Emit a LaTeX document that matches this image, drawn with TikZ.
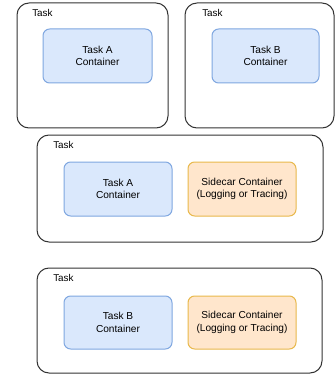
\documentclass[tikz,border=0pt]{standalone}
\usepackage{fontspec}
\setmainfont{Liberation Sans}
\definecolor{taskline}{HTML}{333333}
\definecolor{ctrfill}{HTML}{DAE8FC}
\definecolor{ctrline}{HTML}{7EA6E0}
\definecolor{carfill}{HTML}{FFE6CC}
\definecolor{carline}{HTML}{E8B84A}
\tikzset{
  task/.style={draw=taskline, line width=0.75pt, rounded corners=9pt, inner sep=0pt},
  tasklabel/.style={anchor=west, inner sep=0pt, font=\fontsize{7.4}{8}\selectfont},
  ctr/.style={draw=ctrline, fill=ctrfill, line width=0.75pt, rounded corners=5pt,
    minimum width=81pt, minimum height=40.5pt, align=center,
    font=\fontsize{7.6}{9.3}\selectfont},
  sidecar/.style={ctr, draw=carline, fill=carfill}
}
\begin{document}
\begin{tikzpicture}[x=0.75pt,y=-0.75pt]
    \useasboundingbox (0,0) rectangle (335,374);

    % two separate tasks
    \node[task, minimum width=113.25pt, minimum height=93.75pt] (taskA) at (92.5,65.5) {};
    \node[task, minimum width=111.75pt, minimum height=93.75pt] (taskB) at (259.5,65.5) {};
    \node[tasklabel] (labelA) at (32,13) {Task};
    \node[tasklabel] (labelB) at (202,13) {Task};
    \node[ctr, minimum width=81.75pt] (ctrA) at (97.5,56) {Task A\\Container};
    \node[ctr, minimum width=80.25pt] (ctrB) at (265.5,56) {Task B\\Container};

    % task A with sidecar
    \node[task, minimum width=214.5pt, minimum height=80.25pt] (taskAS) at (180,188.5) {};
    \node[tasklabel] (labelAS) at (53,145) {Task};
    \node[ctr] (ctrAS) at (118,189) {Task A\\Container};
    \node[sidecar] (carA) at (242,189) {Sidecar Container\\(Logging or Tracing)};

    % task B with sidecar
    \node[task, minimum width=213.75pt, minimum height=78.75pt] (taskBS) at (179.5,320.5) {};
    \node[tasklabel] (labelBS) at (53,278) {Task};
    \node[ctr, minimum height=39.75pt] (ctrBS) at (118,322.5) {Task B\\Container};
    \node[sidecar, minimum height=39.75pt] (carB) at (242,322.5) {Sidecar Container\\(Logging or Tracing)};
\end{tikzpicture}
\end{document}
